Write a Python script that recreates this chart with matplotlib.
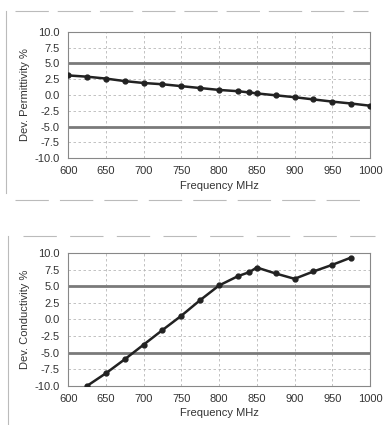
import matplotlib
matplotlib.use("Agg")
import matplotlib.pyplot as plt
from matplotlib.lines import Line2D

plt.rcParams['font.family'] = ['Liberation Sans', 'DejaVu Sans']

freq_perm = [600, 625, 650, 675, 700, 725, 750, 775, 800, 825, 840, 850, 875, 900, 925, 950, 975, 1000]
dev_perm = [3.1, 2.9, 2.6, 2.2, 1.9, 1.7, 1.4, 1.1, 0.8, 0.6, 0.4, 0.25, -0.05, -0.35, -0.7, -1.05, -1.35, -1.7]

freq_cond = [625, 650, 675, 700, 725, 750, 775, 800, 825, 840, 850, 875, 900, 925, 950, 975]
dev_cond = [-10.0, -8.1, -6.0, -3.8, -1.6, 0.55, 2.9, 5.1, 6.5, 7.1, 7.8, 6.9, 6.1, 7.2, 8.2, 9.3]

x_ticks = [600, 650, 700, 750, 800, 850, 900, 950, 1000]
y_ticks = [-10.0, -7.5, -5.0, -2.5, 0.0, 2.5, 5.0, 7.5, 10.0]
limits = [-5.0, 5.0]

fig = plt.figure(figsize=(3.83, 4.25), dpi=100)
ax1 = fig.add_axes([0.178, 0.628, 0.788, 0.297])
ax2 = fig.add_axes([0.178, 0.092, 0.788, 0.313])

def style(ax, x, y, ylabel):
    ax.set_xlim(600, 1000)
    ax.set_ylim(-10, 10)
    ax.set_xticks(x_ticks)
    ax.set_yticks(y_ticks)
    ax.set_yticklabels([f"{v:.1f}" for v in y_ticks])
    ax.grid(True, color='#b8b8b8', linestyle=(0, (3, 3)), linewidth=0.6)
    for s in ax.spines.values():
        s.set_color('#888888')
        s.set_linewidth(0.8)
    ax.tick_params(axis='y', length=0, labelsize=8, colors='#333333', pad=6)
    ax.tick_params(axis='x', length=0, labelsize=8, colors='#333333', pad=6)
    for lv in limits:
        ax.axhline(lv, color='#7a7a7a', linewidth=2.0, zorder=2)
    ax.plot(x, y, color='#222222', linewidth=1.8, marker='o', markersize=3.5, zorder=3, clip_on=True)
    ax.set_ylabel(ylabel, fontsize=8, color='#333333', labelpad=3)
    ax.set_xlabel("Frequency MHz", fontsize=8, color='#333333', labelpad=3)

style(ax1, freq_perm, dev_perm, "Dev. Permittivity %")
style(ax2, freq_cond, dev_cond, "Dev. Conductivity %")

# faint scan frame lines
fc = '#bbbbbb'
fig.add_artist(Line2D([0.015, 0.015], [0.545, 0.975], color=fc, lw=0.8, transform=fig.transFigure))
fig.add_artist(Line2D([0.04, 0.96], [0.975, 0.975], color=fc, lw=0.8, transform=fig.transFigure, linestyle=(0, (30, 8))))
fig.add_artist(Line2D([0.04, 0.96], [0.53, 0.53], color=fc, lw=0.8, transform=fig.transFigure, linestyle=(0, (30, 10))))
fig.add_artist(Line2D([0.02, 0.02], [0.0, 0.445], color=fc, lw=0.8, transform=fig.transFigure))
fig.add_artist(Line2D([0.06, 0.98], [0.445, 0.445], color=fc, lw=0.8, transform=fig.transFigure, linestyle=(0, (30, 12))))

fig.savefig("out.png", dpi=100, facecolor='white')
